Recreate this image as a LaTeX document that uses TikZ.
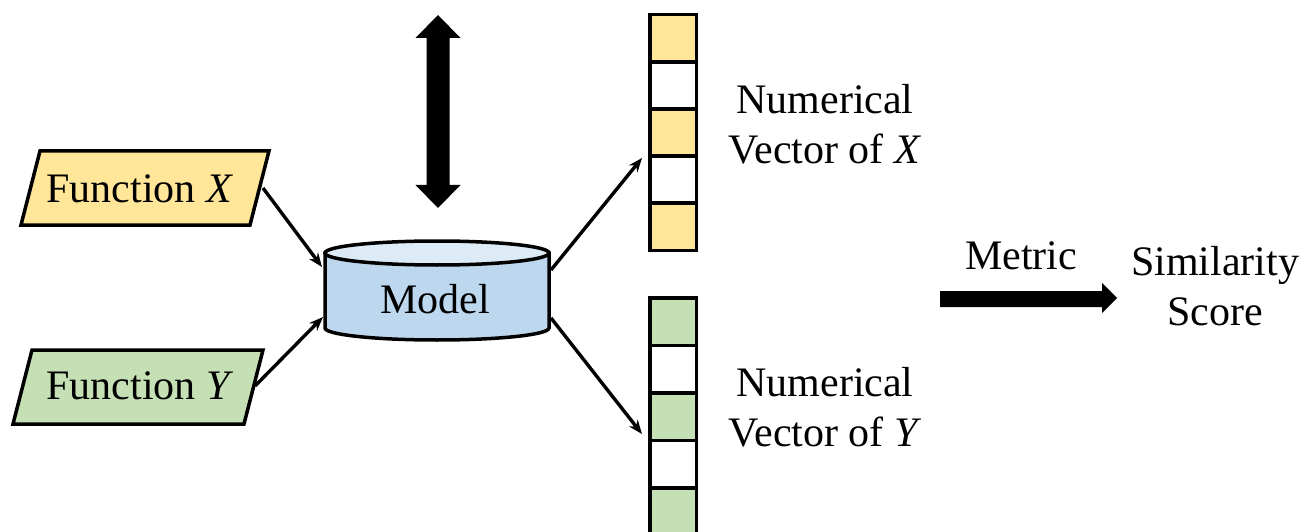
\documentclass[tikz,border=0pt]{standalone}
\usepackage{fontspec}
\setmainfont{LiberationSerif}[Extension=.ttf, UprightFont=*-Regular,
  ItalicFont=*-Italic, BoldFont=*-Bold, BoldItalicFont=*-BoldItalic]
\usetikzlibrary{arrows.meta}
\definecolor{fyellow}{HTML}{FFE699}
\definecolor{fgreen}{HTML}{C5E0B4}
\definecolor{fblue}{HTML}{BDD7EE}
\definecolor{fbluelight}{HTML}{DDEBF7}
\tikzset{
  outline/.style={draw=black, line width=3.5pt, line join=miter},
  lbl/.style={inner sep=0pt, font=\fontsize{42}{50}\selectfont},
  conn/.style={line width=3.4pt, -{Stealth[length=14pt,width=11pt]}},
  cell/.style={draw=black, line width=3.5pt, minimum width=46.5pt,
    inner sep=0pt, outer sep=0pt},
}
\begin{document}
\begin{tikzpicture}[x=1pt,y=-1pt]
\clip (0,0) rectangle (1307,532);
\fill[white] (0,0) rectangle (1307,532);

% input functions (parallelograms)
\filldraw[outline, fill=fyellow] (21,225) -- (40,151) -- (269,151) -- (250,225) -- cycle;
\node[lbl, anchor=base] (fx) at (140,203) {Function \textit{X}};
\filldraw[outline, fill=fgreen] (13,424) -- (32,350) -- (263,350) -- (244,424) -- cycle;
\node[lbl, anchor=base] (fy) at (140,399) {Function \textit{Y}};

% model (cylinder)
\filldraw[outline, fill=fblue] (325,253) -- (325,328)
  arc[start angle=180, end angle=0, x radius=112, y radius=12] -- (549,253) -- cycle;
\filldraw[outline, fill=fbluelight] (437,253) ellipse [x radius=112, y radius=12];
\node[lbl, anchor=base] (model) at (435,313) {Model};

% training / update arrow
\fill (438,15) -- (460.5,38) -- (449.5,38) -- (449.5,185) -- (460.5,185)
  -- (438,208) -- (415.5,185) -- (426.5,185) -- (426.5,38) -- (415.5,38) -- cycle;

% embedding vectors
\foreach \i/\c in {1/fyellow,2/white,3/fyellow,4/white,5/fyellow}
  \node[cell, fill=\c, minimum height=47.1pt] (vx\i) at (673,{14.75+47.1*(\i-0.5)}) {};
\foreach \i/\c in {1/fgreen,2/white,3/fgreen,4/white,5/fgreen}
  \node[cell, fill=\c, minimum height=47.5pt] (vy\i) at (673,{297.75+47.5*(\i-0.5)}) {};

\node[lbl, align=center] (nvx) at (825,124) {Numerical\\Vector of \textit{X}};
\node[lbl, align=center] (nvy) at (825,407) {Numerical\\Vector of \textit{Y}};

% connector end points
\coordinate (fx-out) at (263,188);
\coordinate (fy-out) at (255,386);
\coordinate (m-in1) at (322,267);
\coordinate (m-in2) at (323,317);
\coordinate (m-out1) at (551,270);
\coordinate (m-out2) at (551,318);
\coordinate (vx-in) at (642,158);
\coordinate (vy-in) at (642,434);

\draw[conn] (fx-out) -- (m-in1);
\draw[conn] (fy-out) -- (m-in2);
\draw[conn] (m-out1) -- (vx-in);
\draw[conn] (m-out2) -- (vy-in);

% metric
\node[lbl, anchor=base] (metric) at (1021,269) {Metric};
\fill (940,291) -- (1102,291) -- (1102,283) -- (1117,298) -- (1102,313)
  -- (1102,307) -- (940,307) -- cycle;
\node[lbl, align=center] (score) at (1215,286) {Similarity\\Score};
\end{tikzpicture}
\end{document}
